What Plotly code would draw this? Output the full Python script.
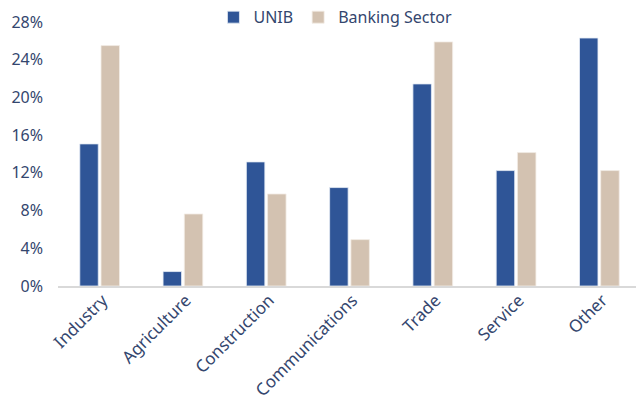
import plotly.graph_objects as go

sectors = ["Industry", "Agriculture", "Construction", "Communications", "Trade", "Service", "Other"]
unib = [0.1507, 0.0153, 0.1316, 0.1044, 0.2143, 0.1224, 0.2630]
banking_sector = [0.2550, 0.0764, 0.0976, 0.0492, 0.2589, 0.1415, 0.1224]
y_ticks = [0, 0.04, 0.08, 0.12, 0.16, 0.20, 0.24, 0.28]

text_color = "#34466E"
font_family = "Noto Sans, Open Sans, sans-serif"

fig = go.Figure()
fig.add_bar(x=sectors, y=unib, name="UNIB",
            marker=dict(color="#2F5597", line=dict(color="#E6ECF5", width=0.8)))
fig.add_bar(x=sectors, y=banking_sector, name="Banking Sector",
            marker=dict(color="#D3C2B1", line=dict(color="#F2ECE6", width=0.8)))

fig.update_layout(
    width=636, height=398,
    margin=dict(l=58, r=0, t=22, b=112, autoexpand=False),
    paper_bgcolor="white", plot_bgcolor="white",
    barmode="group", bargap=0.49, bargroupgap=0.13,
    font=dict(family=font_family, color=text_color, size=16),
    legend=dict(orientation="h", x=0.48, xanchor="center", y=1.018, yanchor="middle",
                font=dict(size=16, color=text_color), itemwidth=30,
                bgcolor="rgba(0,0,0,0)", traceorder="normal"),
    showlegend=True,
)
fig.update_xaxes(
    range=[-0.5, 6.44], showgrid=False, showline=True, linecolor="#D9D9D9", linewidth=1.5,
    tickangle=-45, ticks="", tickfont=dict(size=17, color=text_color),
    ticklabelshift=3, ticklabelstandoff=-4, automargin=False,
)
fig.update_yaxes(
    range=[0, 0.28], tickvals=y_ticks, tickformat=".0%", showgrid=False, zeroline=False,
    showline=False, ticks="", tickfont=dict(size=16, color=text_color), ticklabelstandoff=14,
    automargin=False,
)

fig.write_html("out.html")
